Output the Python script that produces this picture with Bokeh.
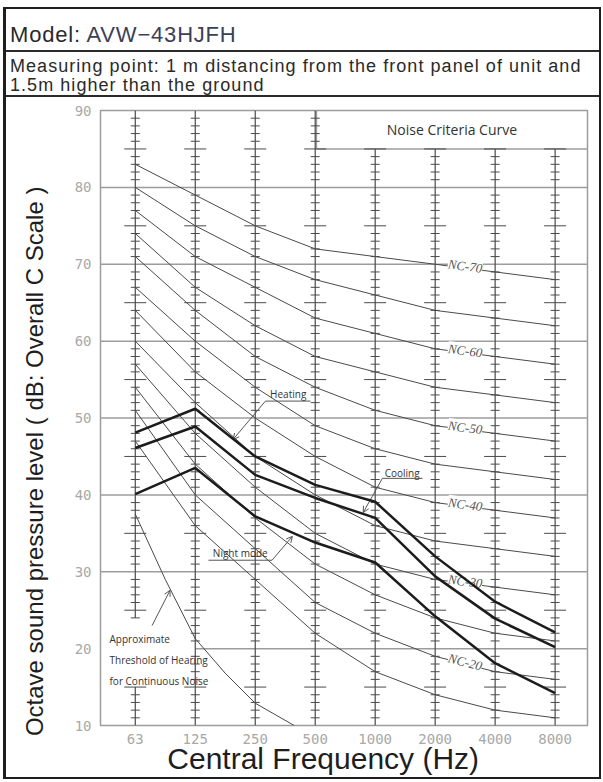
import math
from bokeh.plotting import figure
from bokeh.models import (Range1d, FixedTicker, ColumnDataSource, LabelSet,
                          Arrow, OpenHead, Div)
from bokeh.layouts import column
from bokeh.embed import file_html
from bokeh.resources import INLINE
from bokeh.core.properties import value

# ---------------- data ----------------
freq_labels = ["63", "125", "250", "500", "1000", "2000", "4000", "8000"]
freq_pos = [0, 1, 2, 3, 4, 5, 6, 7]
y_ticks = [10, 20, 30, 40, 50, 60, 70, 80, 90]

nc_names = ["NC-15", "NC-20", "NC-25", "NC-30", "NC-35", "NC-40",
            "NC-45", "NC-50", "NC-55", "NC-60", "NC-65", "NC-70"]
nc15 = [47, 36, 29, 22, 17, 14, 12, 11]
nc20 = [51, 40, 33, 26, 22, 19, 17, 16]
nc25 = [54, 44, 37, 31, 27, 24, 22, 21]
nc30 = [57, 48, 41, 35, 31, 29, 28, 27]
nc35 = [60, 52, 45, 40, 36, 34, 33, 32]
nc40 = [64, 56, 50, 45, 41, 39, 38, 37]
nc45 = [67, 60, 54, 49, 46, 44, 43, 42]
nc50 = [71, 64, 58, 54, 51, 49, 48, 47]
nc55 = [74, 67, 62, 58, 56, 54, 53, 52]
nc60 = [77, 71, 67, 63, 61, 59, 58, 57]
nc65 = [80, 75, 71, 68, 66, 64, 63, 62]
nc70 = [83, 79, 75, 72, 71, 70, 69, 68]
nc_curves = [nc15, nc20, nc25, nc30, nc35, nc40, nc45, nc50, nc55, nc60, nc65, nc70]
nc_labelled = ["NC-20", "NC-30", "NC-40", "NC-50", "NC-60", "NC-70"]

heating = [48.1, 51.2, 45.0, 41.3, 39.1, 32.0, 26.1, 22.1]
cooling = [46.1, 48.9, 42.6, 39.6, 37.0, 29.4, 23.9, 20.2]
night = [40.1, 43.5, 37.2, 33.8, 31.2, 24.2, 18.1, 14.2]

threshold_pos = [0, 0.5, 1, 1.5, 2, 2.65]
threshold = [37.5, 29.0, 21.3, 16.8, 12.9, 10.0]

# ---------------- layout constants ----------------
W, H = 593, 680
HEAD_H = 88
ML, MR, MT, MB = 94, 12, 13, 52
X0, X1 = -0.58, 7.54
Y0, Y1 = 10, 90
px_x = (W - ML - MR) / (X1 - X0)
px_y = (H - MT - MB) / (Y1 - Y0)

GRID = "#9c9c9c"
RULER = "#4a4a4a"
NCC = "#4a4a4a"
NBSP = "\u00a0"

p = figure(width=W, height=H, x_range=Range1d(X0, X1), y_range=Range1d(Y0, Y1),
           output_backend="svg", toolbar_location=None,
           min_border_left=ML, min_border_right=MR, min_border_top=MT,
           min_border_bottom=MB, margin=0)
p.grid.visible = False
p.outline_line_color = GRID
p.outline_line_width = 1.5
p.background_fill_color = "white"
p.border_fill_color = "white"

# axes
p.xaxis.ticker = FixedTicker(ticks=freq_pos)
p.xaxis.major_label_overrides = {i: l for i, l in zip(freq_pos, freq_labels)}
p.yaxis.ticker = FixedTicker(ticks=y_ticks)
for ax in (p.xaxis[0], p.yaxis[0]):
    ax.axis_line_color = None
    ax.major_tick_line_color = None
    ax.minor_tick_line_color = None
    ax.major_label_text_font = "DejaVu Sans Mono"
    ax.major_label_text_font_size = "14px"
    ax.major_label_text_color = "#a8a8a8"
p.xaxis.major_label_standoff = 2
p.yaxis.major_label_standoff = 3

# axis titles (non-breaking spaces shift them off-centre like the reference)
p.xaxis.axis_label = "Central Frequency (Hz)" + NBSP * 5
p.xaxis.axis_label_text_font = "Liberation Sans"
p.xaxis.axis_label_text_font_style = "normal"
p.xaxis.axis_label_text_font_size = "30px"
p.xaxis.axis_label_text_color = "#1e1e1e"
p.xaxis.axis_label_standoff = -5
p.yaxis.axis_label = "Octave sound pressure level  ( dB: Overall C Scale )" + NBSP * 12
p.yaxis.axis_label_text_font = "Liberation Sans"
p.yaxis.axis_label_text_font_style = "normal"
p.yaxis.axis_label_text_font_size = "24px"
p.yaxis.axis_label_text_color = "#1e1e1e"
p.yaxis.axis_label_standoff = 24

# horizontal grid lines (20 dB line starts at the 125 Hz ruler)
grid_levels = [20, 30, 40, 50, 60, 70, 80]
grid_start = [1, X0, X0, X0, X0, X0, X0]
p.segment(x0=grid_start, y0=grid_levels, x1=[X1] * len(grid_levels), y1=grid_levels,
          line_color=GRID, line_width=1.5)

# "Noise Criteria Curve" box
box_left, box_bottom = 3.02, 85
p.segment(x0=[box_left, box_left], y0=[box_bottom, box_bottom],
          x1=[box_left, X1], y1=[Y1, box_bottom], line_color=GRID, line_width=1.5)
p.text(x=[(box_left + X1) / 2], y=[(box_bottom + Y1) / 2], text=["Noise Criteria Curve"],
       text_font=value("Open Sans"), text_font_size="14px", text_color="#333333",
       text_align="center", text_baseline="middle")

# rulers on each frequency line
ruler_spans = {0: [(10, 15), (24, 90)], 1: [(10, 90)], 2: [(10, 90)], 3: [(10, 90)],
               4: [(10, 85)], 5: [(10, 85)], 6: [(10, 85)], 7: [(10, 85)]}
vx0, vy0, vx1, vy1 = [], [], [], []
tx0, ty, tx1 = [], [], []
small_hw = 4.5 / px_x
big_hw = 11 / px_x
for xi, spans in ruler_spans.items():
    for lo, hi in spans:
        vx0.append(xi); vx1.append(xi); vy0.append(lo); vy1.append(hi)
        for d in range(lo, hi + 1):
            if d % 10 == 0:
                continue
            hw = big_hw if d % 5 == 0 else small_hw
            tx0.append(xi - hw); tx1.append(xi + hw); ty.append(d)
p.segment(x0=vx0, y0=vy0, x1=vx1, y1=vy1, line_color=RULER, line_width=1.2)
p.segment(x0=tx0, y0=ty, x1=tx1, y1=ty, line_color=RULER, line_width=1)

# NC curves
for curve in nc_curves:
    p.line(freq_pos, curve, line_color=NCC, line_width=1)

# threshold of hearing
p.line(threshold_pos, threshold, line_color=NCC, line_width=1)

# NC labels along the 2000-4000 Hz segment
lab_x, lab_y, lab_t, lab_a = [], [], [], []
for name, curve in zip(nc_names, nc_curves):
    if name in nc_labelled:
        lab_x.append((freq_pos[5] + freq_pos[6]) / 2)
        lab_y.append((curve[5] + curve[6]) / 2)
        lab_t.append(name)
        lab_a.append(-math.atan((curve[5] - curve[6]) * px_y / px_x))
nc_src = ColumnDataSource(dict(x=lab_x, y=lab_y, text=lab_t, angle=lab_a))
p.add_layout(LabelSet(x="x", y="y", text="text", angle="angle", source=nc_src,
                      y_offset=2, text_font="DejaVu Sans Mono", text_font_style="italic",
                      text_font_size="13px", text_color="#555555", text_align="center",
                      text_baseline="middle", background_fill_color="white",
                      background_fill_alpha=1.0))

# unit curves (drawn above the NC labels)
for series in (heating, cooling, night):
    p.line(freq_pos, series, line_color="#1c1c1c", line_width=2.5, level="overlay")

# series annotations (label text, text centre, underline, leader)
notes = [
    ("Heating", (2.55, 53.1), (2.17, 2.92, 52.2), ((2.17, 52.2), (1.63, 47.2))),
    ("Cooling", (4.45, 42.8), (4.12, 4.79, 42.15), ((4.12, 42.15), (3.80, 37.7))),
    ("Night mode", (1.75, 32.4), (1.22, 2.28, 31.5), ((2.28, 31.5), (2.62, 34.6))),
]
for txt, (cx, cy), (u0, u1, uy), ((ax0, ay0), (ax1, ay1)) in notes:
    p.text(x=[cx], y=[cy], text=[txt], text_font=value("Open Sans"), text_font_size="10px",
           text_color="#333333", text_align="center", text_baseline="middle")
    p.segment(x0=[u0], y0=[uy], x1=[u1], y1=[uy], line_color="#555555", line_width=1)
    p.add_layout(Arrow(x_start=ax0, y_start=ay0, x_end=ax1, y_end=ay1,
                       line_color="#555555", line_width=1,
                       end=OpenHead(size=6, line_color="#555555", line_width=1)))

# threshold annotation
thr_lines = ["Approximate", "Threshold of Hearing", "for Continuous Noise"]
thr_y = [21.2, 18.5, 15.75]
p.text(x=[-0.43] * 3, y=thr_y, text=thr_lines, text_font=value("Open Sans"),
       text_font_size="10px", text_color="#333333", text_align="left",
       text_baseline="middle")
p.add_layout(Arrow(x_start=0.28, y_start=23.0, x_end=0.58, y_end=27.6,
                   line_color="#555555", line_width=1,
                   end=OpenHead(size=6, line_color="#555555", line_width=1)))

# ---------------- header ----------------
header_html = (
    f'<div style="width:{W}px;font-family:\'Liberation Sans\',Arial,sans-serif;color:#2a2a2a;">'
    '<div style="box-sizing:border-box;height:43px;border-bottom:2px solid #2a2a2a;'
    'font-size:22px;line-height:22px;padding:15px 0 0 4px;letter-spacing:0.8px;'
    'white-space:nowrap;">Model: <span style="color:#3b4058">AVW\u221243HJFH</span></div>'
    '<div style="box-sizing:border-box;height:45px;border-bottom:2px solid #2a2a2a;'
    'font-size:18px;line-height:19px;padding:5px 0 0 4px;letter-spacing:1.05px;'
    'white-space:nowrap;">Measuring point: 1 m distancing from the front panel of unit and'
    '<br>1.5m higher than the ground</div></div>'
)
header = Div(text=header_html, width=W, height=HEAD_H, margin=0)

layout = column(header, p, margin=(7, 0, 0, 3), width=W + 5, height=HEAD_H + H + 4, styles={
    "border-left": "3px solid #1e1e1e", "border-right": "2px solid #1e1e1e",
    "border-top": "2px solid #1e1e1e", "border-bottom": "2px solid #1e1e1e"})

open("out.html", "w").write(file_html(layout, INLINE))
